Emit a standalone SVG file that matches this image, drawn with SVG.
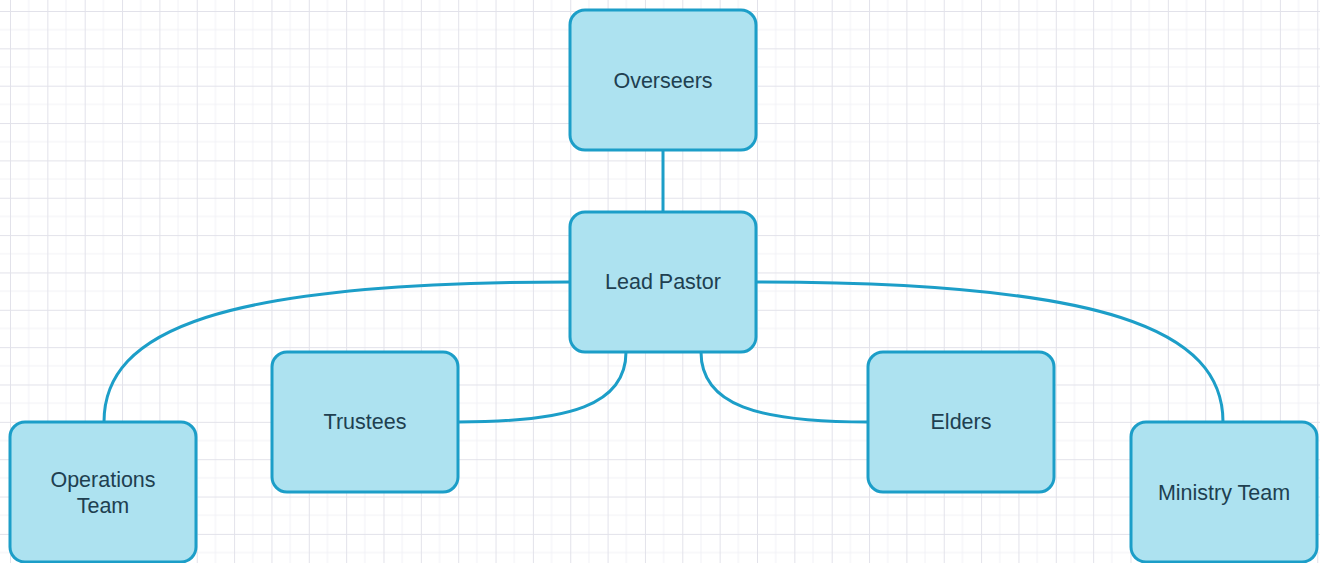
<svg xmlns="http://www.w3.org/2000/svg" width="1320" height="563" viewBox="0 0 1320 563">
<defs>
<pattern id="grid" x="10" y="11" width="37.35" height="37.35" patternUnits="userSpaceOnUse">
<path d="M18.7,0 V37.35 M0,18.7 H37.35" fill="none" stroke="#f1f1f6" stroke-width="1"/>
<path d="M0.5,0 V37.35 M0,0.5 H37.35" fill="none" stroke="#e2e2ea" stroke-width="1"/>
</pattern>
<style>
.box{fill:#ade2f0;stroke:#1c9ec8;stroke-width:3}
.lbl{font-family:"Liberation Sans",Arial,sans-serif;font-size:21.5px;fill:#203f50;text-anchor:middle}
.conn{fill:none;stroke:#1c9ec8;stroke-width:3}
</style>
</defs>
<rect width="1320" height="563" fill="#ffffff"/>
<rect width="1320" height="563" fill="url(#grid)"/>
<g id="connectors">
<path class="conn" d="M663,151 V212"/>
<path class="conn" d="M570,282 C220,282 104,330 104,422"/>
<path class="conn" d="M756,282 C1106,282 1223,330 1223,422"/>
<path class="conn" d="M626,352 C626,405 570,422 458,422"/>
<path class="conn" d="M701,352 C701,405 757,422 868,422"/>
</g>
<g id="overseers">
<rect class="box" x="570" y="10" width="186" height="140" rx="15"/>
<text class="lbl" x="663" y="88">Overseers</text>
</g>
<g id="lead-pastor">
<rect class="box" x="570" y="212" width="186" height="140" rx="15"/>
<text class="lbl" x="663" y="289">Lead Pastor</text>
</g>
<g id="trustees">
<rect class="box" x="272" y="352" width="186" height="140" rx="15"/>
<text class="lbl" x="365" y="429">Trustees</text>
</g>
<g id="elders">
<rect class="box" x="868" y="352" width="186" height="140" rx="15"/>
<text class="lbl" x="961" y="429">Elders</text>
</g>
<g id="operations-team">
<rect class="box" x="10" y="422" width="186" height="140" rx="15"/>
<text class="lbl" x="103" y="487">Operations</text>
<text class="lbl" x="103" y="513">Team</text>
</g>
<g id="ministry-team">
<rect class="box" x="1131" y="422" width="186" height="140" rx="15"/>
<text class="lbl" x="1224" y="500">Ministry Team</text>
</g>
</svg>
